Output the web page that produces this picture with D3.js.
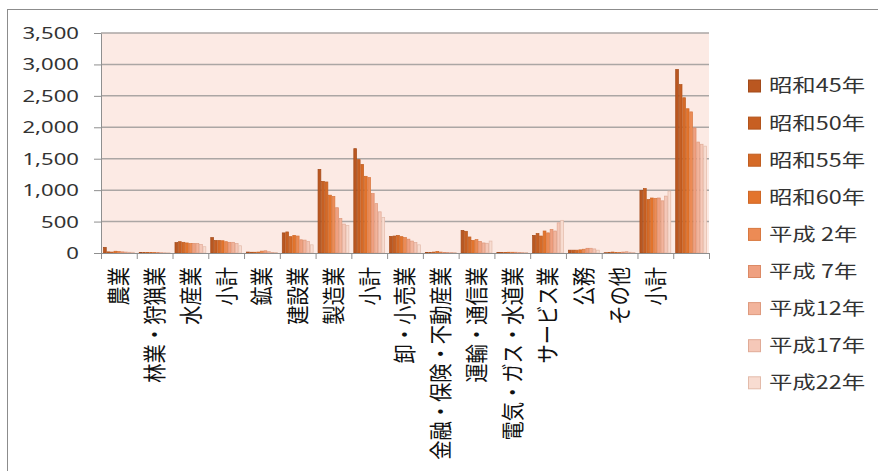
<!DOCTYPE html>
<html>
<head>
<meta charset="utf-8">
<script src="https://cdn.jsdelivr.net/npm/d3@7"></script>
<style>
  body { margin: 0; background: #fff; }
  svg { display: block; }
</style>
</head>
<body>
<div id="vis"></div>
<script>
// frame constants
const FRAME_WIDTH = 878;
const FRAME_HEIGHT = 471;
const MARGINS = {left: 101, right: 169, top: 33, bottom: 218};
const VIS_WIDTH = FRAME_WIDTH - MARGINS.left - MARGINS.right;
const VIS_HEIGHT = FRAME_HEIGHT - MARGINS.top - MARGINS.bottom;

// data
const categories = ["農業", "林業・狩猟業", "水産業", "小計", "鉱業", "建設業", "製造業", "小計",
                    "卸・小売業", "金融・保険・不動産業", "運輸・通信業", "電気・ガス・水道業",
                    "サービス業", "公務", "その他", "小計", ""];
const seriesNames = ["昭和45年", "昭和50年", "昭和55年", "昭和60年", "平成 2年",
                     "平成 7年", "平成12年", "平成17年", "平成22年"];

const S45 = [90, 8, 165, 245, 15, 320, 1330, 1660, 265, 10, 360, 10, 280, 45, 5, 995, 2920];
const S50 = [18, 6, 180, 200, 12, 335, 1140, 1485, 270, 10, 345, 10, 310, 45, 8, 1025, 2680];
const S55 = [15, 10, 170, 200, 12, 260, 1130, 1410, 280, 15, 255, 10, 270, 45, 15, 850, 2470];
const S60 = [28, 10, 160, 195, 15, 280, 920, 1220, 260, 25, 200, 12, 350, 50, 10, 875, 2295];
const H02 = [25, 8, 150, 180, 30, 270, 900, 1200, 245, 15, 215, 12, 320, 60, 8, 870, 2245];
const H07 = [18, 6, 150, 170, 35, 210, 720, 945, 220, 10, 185, 12, 375, 75, 15, 875, 1990];
const H12 = [15, 5, 150, 170, 20, 205, 550, 785, 190, 8, 160, 10, 350, 75, 20, 830, 1765];
const H17 = [12, 4, 135, 150, 10, 185, 460, 655, 165, 8, 155, 10, 480, 65, 12, 905, 1730];
const H22 = [12, 4, 100, 115, 8, 130, 440, 565, 130, 8, 190, 10, 520, 45, 10, 985, 1700];

const yTicks = [0, 500, 1000, 1500, 2000, 2500, 3000, 3500];

const allSeries = [S45, S50, S55, S60, H02, H07, H12, H17, H22];
const FILLS = ["#BA5720", "#C75F22", "#D56A27", "#E3742C", "#EC8B55",
               "#EFA080", "#F2B49C", "#F5C8B8", "#F8DCD1"];
const STROKES = ["#A24A1A", "#B2541C", "#C05E22", "#CF6726", "#D87840",
                 "#DC8A66", "#DE9A7E", "#E0AA96", "#E3BBAA"];

// build rows for d3
const table = categories.map((c, i) => ({
  idx: i,
  values: allSeries.map((s, j) => ({series: j, value: s[i]}))
}));

const FRAME = d3.select("#vis")
  .append("svg")
    .attr("width", FRAME_WIDTH)
    .attr("height", FRAME_HEIGHT);

// chart border
FRAME.append("rect")
  .attr("x", 7.5).attr("y", 9.5)
  .attr("width", 880).attr("height", 480)
  .attr("fill", "none")
  .attr("stroke", "#8c8c8c");

// scales
const X_SCALE = d3.scaleBand()
  .domain(d3.range(categories.length))
  .range([0, VIS_WIDTH]);

const X_INNER = d3.scaleBand()
  .domain(d3.range(seriesNames.length))
  .range([2.1, X_SCALE.bandwidth() - 2.1]);

const X_EDGES = d3.scaleLinear()
  .domain([0, categories.length])
  .range([0, VIS_WIDTH]);

const Y_SCALE = d3.scaleLinear()
  .domain([0, 3500])
  .range([VIS_HEIGHT, 0]);

const PLOT = FRAME.append("g")
  .attr("transform", "translate(" + MARGINS.left + "," + MARGINS.top + ")");

// plot background
PLOT.append("rect")
  .attr("width", VIS_WIDTH)
  .attr("height", VIS_HEIGHT)
  .attr("fill", "#FCEAE4");

// gridlines
PLOT.selectAll(".grid")
  .data(yTicks.slice(1))
  .enter()
  .append("line")
    .attr("x1", 0).attr("x2", VIS_WIDTH)
    .attr("y1", d => Y_SCALE(d)).attr("y2", d => Y_SCALE(d))
    .attr("stroke", "#ABA6A4")
    .attr("stroke-width", 1.5);

// bars
const groups = PLOT.selectAll(".grp")
  .data(table)
  .enter()
  .append("g")
    .attr("transform", d => "translate(" + X_SCALE(d.idx) + ",0)");

groups.selectAll("rect")
  .data(d => d.values)
  .enter()
  .append("rect")
    .attr("x", d => X_INNER(d.series) + 0.35)
    .attr("y", d => Y_SCALE(d.value))
    .attr("width", X_INNER.bandwidth() - 0.7)
    .attr("height", d => VIS_HEIGHT - Y_SCALE(d.value))
    .attr("fill", d => FILLS[d.series])
    .attr("stroke", d => STROKES[d.series])
    .attr("stroke-width", 0.7);

// y axis
const yAxis = FRAME.append("g")
  .attr("transform", "translate(" + MARGINS.left + "," + MARGINS.top + ")")
  .call(d3.axisLeft(Y_SCALE).tickValues(yTicks).tickFormat(d3.format(",")).tickSize(7).tickSizeOuter(0));
yAxis.select(".domain").attr("stroke", "#8f8f8f");
yAxis.selectAll(".tick line").attr("stroke", "#8f8f8f");
yAxis.selectAll("text")
  .attr("x", -17)
  .attr("transform", "scale(1.3,1)")
  .attr("font-family", "'Noto Sans', sans-serif")
  .attr("font-size", "17px")
  .attr("fill", "#333");

// x axis: tick marks on category edges
const xTicks = FRAME.append("g")
  .attr("transform", "translate(" + MARGINS.left + "," + (MARGINS.top + VIS_HEIGHT) + ")")
  .call(d3.axisBottom(X_EDGES).tickValues(d3.range(categories.length + 1)).tickFormat("").tickSize(6).tickSizeOuter(0));
xTicks.select(".domain").attr("stroke", "#8f8f8f");
xTicks.selectAll(".tick line").attr("stroke", "#8f8f8f");

// x axis: category labels
const xLabels = FRAME.append("g")
  .attr("transform", "translate(" + MARGINS.left + "," + (MARGINS.top + VIS_HEIGHT) + ")")
  .call(d3.axisBottom(X_SCALE).tickFormat(i => categories[i]).tickSize(0));
xLabels.select(".domain").remove();
xLabels.selectAll("text")
  .attr("x", -14)
  .attr("y", 0)
  .attr("dy", "0.36em")
  .attr("text-anchor", "end")
  .attr("transform", "rotate(-90) scale(1,1.2)")
  .attr("font-family", "'Noto Sans CJK JP', sans-serif")
  .attr("font-size", "19.3px")
  .attr("fill", "#111");

// legend
const LEGEND = FRAME.append("g")
  .attr("transform", "translate(748,86)");

const items = LEGEND.selectAll(".item")
  .data(seriesNames)
  .enter()
  .append("g")
    .attr("transform", (d, i) => "translate(0," + (i * 37.1) + ")");

items.append("rect")
  .attr("x", 0.5).attr("y", -6)
  .attr("width", 12).attr("height", 12)
  .attr("fill", (d, i) => FILLS[i])
  .attr("stroke", (d, i) => STROKES[i]);

items.append("text")
  .attr("x", 21 / 1.3)
  .attr("dy", "0.36em")
  .attr("transform", "scale(1.3,1)")
  .attr("font-family", "'Noto Sans CJK JP', sans-serif")
  .attr("font-size", "18px")
  .attr("fill", "#333")
  .text(d => d);
</script>
</body>
</html>
